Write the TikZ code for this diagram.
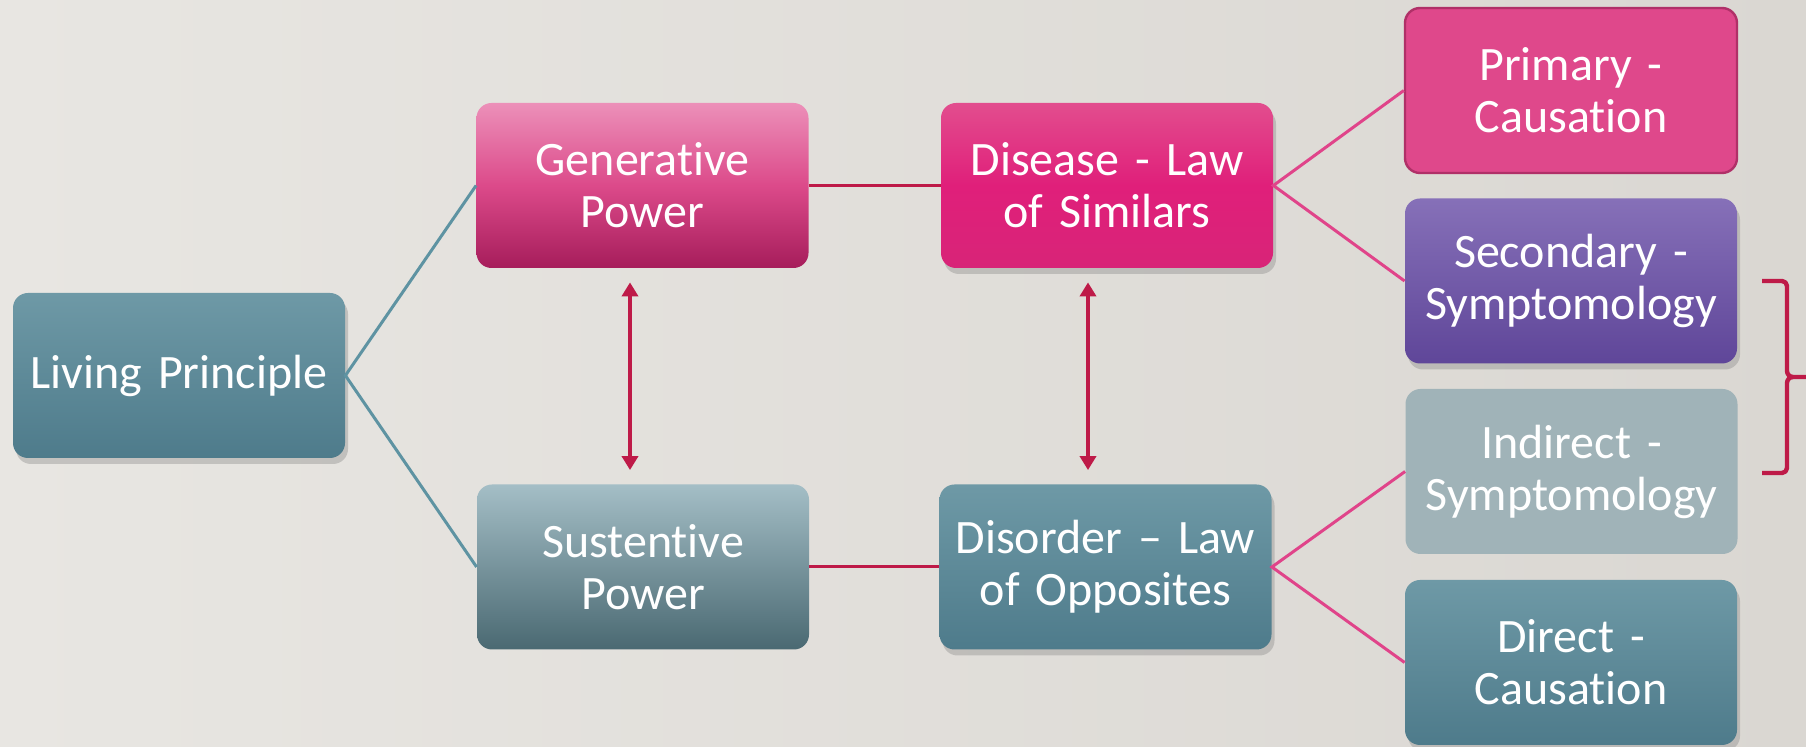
\documentclass[tikz,border=0pt]{standalone}
\usepackage{fontspec}
\setmainfont{Carlito}[Ligatures=NoCommon, WordSpace=0.8]
\usetikzlibrary{arrows.meta,shadows}
\definecolor{bgL}{HTML}{E8E6E2}
\definecolor{bgR}{HTML}{DAD7D2}
\definecolor{tealline}{HTML}{5E93A2}
\definecolor{crimson}{HTML}{BE1A48}
\definecolor{pinkline}{HTML}{E0448A}
\definecolor{HTML6E99A6}{HTML}{6E99A6}
\definecolor{HTML4E7B8B}{HTML}{4E7B8B}
\definecolor{HTMLEC90B9}{HTML}{EC90B9}
\definecolor{HTMLA61D5B}{HTML}{A61D5B}
\definecolor{HTMLDC4A8A}{HTML}{DC4A8A}
\definecolor{HTMLE24D8E}{HTML}{E24D8E}
\definecolor{HTMLD82478}{HTML}{D82478}
\definecolor{HTMLE01F7A}{HTML}{E01F7A}
\definecolor{HTMLDF488B}{HTML}{DF488B}
\definecolor{HTMLB03068}{HTML}{B03068}
\definecolor{HTML8670B8}{HTML}{8670B8}
\definecolor{HTML5F4699}{HTML}{5F4699}
\definecolor{HTMLA0B3B8}{HTML}{A0B3B8}
\definecolor{HTMLA4BEC6}{HTML}{A4BEC6}
\definecolor{HTML4A6972}{HTML}{4A6972}
\tikzset{
  box/.style={rounded corners=7.5pt, minimum width=166pt, minimum height=82.5pt,
    text width=160pt, align=center, text=white, inner sep=0pt,
    font=\fontsize{24}{26}\selectfont},
  shad/.style={drop shadow={opacity=0.35, shadow xshift=1.5pt, shadow yshift=-3pt}},
  tealbox/.style={box, shad, top color=HTML6E99A6, bottom color=HTML4E7B8B},
  genbox/.style={box, top color=HTMLEC90B9, bottom color=HTMLA61D5B, middle color=HTMLDC4A8A},
  disbox/.style={box, shad, top color=HTMLE24D8E, bottom color=HTMLD82478, middle color=HTMLE01F7A},
  primbox/.style={box, fill=HTMLDF488B, draw=HTMLB03068, line width=1.2pt},
  secbox/.style={box, shad, top color=HTML8670B8, bottom color=HTML5F4699},
  indbox/.style={box, fill=HTMLA0B3B8},
  susbox/.style={box, top color=HTMLA4BEC6, bottom color=HTML4A6972},
  conn/.style={line width=1.5pt},
  dbl/.style={line width=2.3pt, crimson, {Triangle[width=8pt,length=7pt]}-{Triangle[width=8pt,length=7pt]}},
}
\begin{document}
\begin{tikzpicture}[x=0.5pt,y=-0.5pt]
\shade[left color=bgL, right color=bgR] (0,0) rectangle (1806,747);
\useasboundingbox (0,0) rectangle (1806,747);

\node[tealbox] (lp) at (179,375.5) {Living Principle};
\node[genbox] (gp) at (642.5,185.5) {Generative\\Power};
\node[disbox] (ds) at (1107,185.5) {Disease - Law\\of Similars};
\node[susbox] (sp) at (643,567) {Sustentive\\Power};
\node[tealbox] (do) at (1105.5,567) {Disorder -- Law\\of Opposites};
\node[primbox] (pr) at (1571,90.5) {Primary -\\Causation};
\node[secbox] (se) at (1571,281) {Secondary -\\Symptomology};
\node[indbox] (in) at (1571.5,471.5) {Indirect -\\Symptomology};
\node[tealbox] (di) at (1571,662.5) {Direct -\\Causation};

\draw[conn, tealline] (gp.west) -- (lp.east) -- (sp.west);
\draw[conn, crimson] (gp.east) -- (ds.west);
\draw[conn, crimson] (sp.east) -- (do.west);
\draw[conn, pinkline] (pr.west) -- (ds.east) -- (se.west);
\draw[conn, pinkline] (in.west) -- (do.east) -- (di.west);

\draw[dbl] ([xshift=-6.25pt,yshift=-7pt]gp.south) -- ([xshift=-6.5pt,yshift=7pt]sp.north);
\draw[dbl] ([xshift=-9.5pt,yshift=-7pt]ds.south) -- ([xshift=-8.75pt,yshift=7pt]do.north);

\coordinate (bt) at (1762,281);
\coordinate (bb) at (1762,473);
\coordinate (bm) at (1806,377);
\draw[crimson, line width=2.2pt, line join=round]
  (bt) -- (1782,281) to[out=0,in=90] (1787,286) -- (1787,371)
  to[out=-90,in=180] (1793,377) -- (bm);
\draw[crimson, line width=2.2pt, line join=round]
  (1793,377) to[out=180,in=90] (1787,383) -- (1787,468)
  to[out=-90,in=0] (1782,473) -- (bb);
\end{tikzpicture}
\end{document}
